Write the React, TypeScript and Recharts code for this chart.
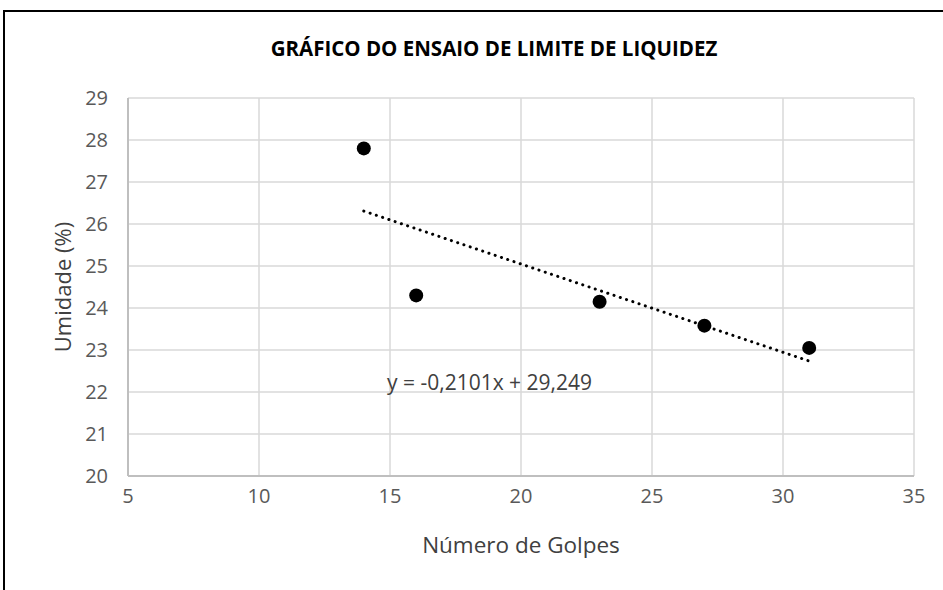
import React from "react";
import {
  ComposedChart, Scatter, Line, XAxis, YAxis, CartesianGrid,
} from "recharts";

// dados do ensaio
const golpes = [14, 16, 23, 27, 31];
const umidade = [27.8, 24.3, 24.15, 23.58, 23.05];

// linha de tendência (Excel): y = -0,2101x + 29,249
const trendSlope = -0.2101;
const trendIntercept = 29.249;
const trendX = [14, 31];

const xTicks = [5, 10, 15, 20, 25, 30, 35];
const yTicks = [20, 21, 22, 23, 24, 25, 26, 27, 28, 29];

const pontos = golpes.map((g, i) => ({ x: g, y: umidade[i] }));
const tendencia = trendX.map((x) => ({ x, t: trendSlope * x + trendIntercept }));

const FONT = "'Open Sans', sans-serif";
const tickStyle = { fontSize: 20, fill: "#595959", fontFamily: FONT };

export default function App() {
  return (
    <div style={{ position: "absolute", left: 0, top: 0, width: 943, height: 590, background: "#fff", overflow: "hidden" }}>
      <div
        style={{
          position: "absolute", left: 3, top: 10, width: 960, height: 600,
          borderLeft: "2px solid #000", borderTop: "2px solid #000",
        }}
      />
      <ComposedChart
        width={943}
        height={590}
        data={tendencia}
        margin={{ top: 98, right: 29, left: 68, bottom: 74 }}
        style={{ position: "absolute", left: 0, top: 0 }}
      >
        <CartesianGrid stroke="#d9d9d9" strokeWidth={1.5} />
        <XAxis
          type="number"
          dataKey="x"
          domain={[5, 35]}
          ticks={xTicks}
          height={40}
          tickLine={false}
          tickSize={0}
          tickMargin={13}
          axisLine={{ stroke: "#bfbfbf", strokeWidth: 2 }}
          tick={tickStyle}
          interval={0}
        />
        <YAxis
          type="number"
          domain={[20, 29]}
          ticks={yTicks}
          width={60}
          tickLine={false}
          tickSize={0}
          tickMargin={20}
          axisLine={{ stroke: "#bfbfbf", strokeWidth: 2 }}
          tick={tickStyle}
          interval={0}
        />
        <Line
          dataKey="t"
          stroke="#000"
          strokeWidth={3}
          strokeDasharray="0.1 6.5"
          strokeLinecap="round"
          dot={false}
          activeDot={false}
          isAnimationActive={false}
        />
        <Scatter
          data={pontos}
          dataKey="y"
          fill="#000"
          shape={(p: any) => <circle cx={p.cx} cy={p.cy} r={7} fill="#000" />}
          isAnimationActive={false}
        />
      </ComposedChart>
      <div
        style={{
          position: "absolute", left: 0, width: 988, top: 34, textAlign: "center",
          fontFamily: FONT, fontWeight: 700, fontSize: 20.5, color: "#000", whiteSpace: "nowrap",
        }}
      >
        GRÁFICO DO ENSAIO DE LIMITE DE LIQUIDEZ
      </div>
      <div
        style={{
          position: "absolute", left: 387, top: 368, fontFamily: FONT,
          fontSize: 21, color: "#404040", whiteSpace: "pre",
        }}
      >
        y = -0,2101x + 29,249
      </div>
      <div
        style={{
          position: "absolute", left: 0, width: 1042, top: 529, textAlign: "center",
          fontFamily: FONT, fontSize: 22.5, color: "#404040", whiteSpace: "nowrap",
        }}
      >
        Número de Golpes
      </div>
      <div
        style={{
          position: "absolute", left: 62 - 100, top: 287 - 11, width: 200, height: 22,
          lineHeight: "22px", textAlign: "center", transform: "rotate(-90deg)",
          fontFamily: FONT, fontSize: 22, color: "#404040", whiteSpace: "nowrap",
        }}
      >
        Umidade (%)
      </div>
    </div>
  );
}
